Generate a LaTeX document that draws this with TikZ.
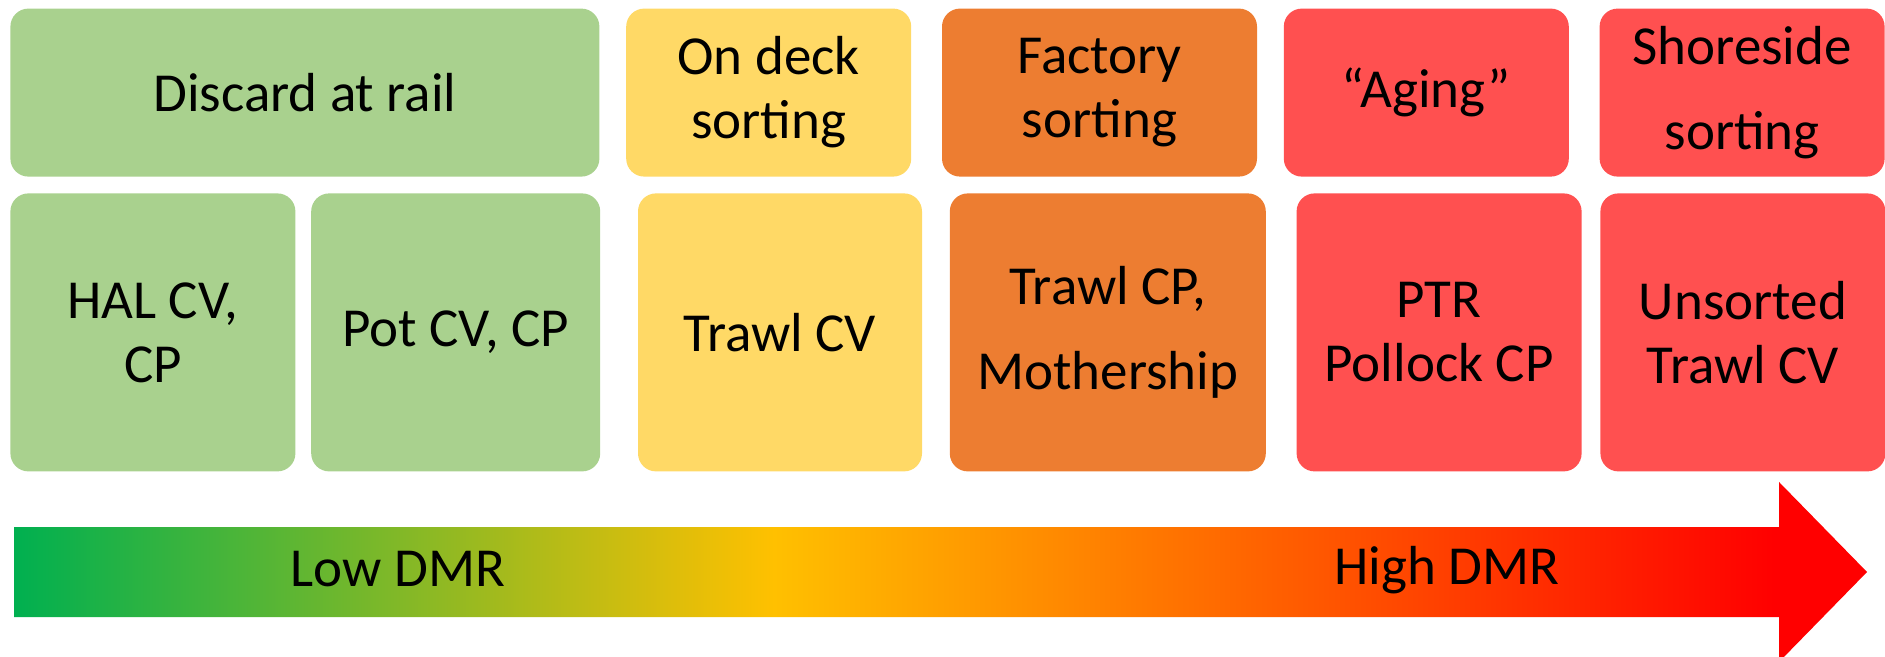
\documentclass[tikz,border=0pt]{standalone}
\usepackage{fontspec}
\setmainfont{Carlito}
\usetikzlibrary{positioning}

\definecolor{railgreen}{HTML}{A9D18E}
\definecolor{deckyellow}{HTML}{FFD966}
\definecolor{factoryorange}{HTML}{ED7D31}
\definecolor{agingred}{HTML}{FF5050}
\definecolor{dmrgreen}{HTML}{00B050}
\definecolor{dmryellow}{HTML}{FFC000}
\definecolor{dmrred}{HTML}{FF0000}

\pgfdeclarehorizontalshading{dmrshade}{100bp}{color(0bp)=(dmrgreen); color(25bp)=(dmrgreen); color(45.5bp)=(dmryellow); color(72.5bp)=(dmrred); color(100bp)=(dmrred)}

\tikzset{
  sortbox/.style={rounded corners=9pt, inner sep=0pt, align=center, text=black,
    font=\fontsize{27.5}{32}\selectfont},
  toprow/.style={sortbox, minimum height=84pt},
  botrow/.style={sortbox, minimum height=139pt},
  widelines/.style={font=\fontsize{27.5}{42.5}\selectfont},
}

\begin{document}
\begin{tikzpicture}[x=0.5pt, y=-0.5pt]
        \useasboundingbox (0,0) rectangle (1885,657);

        \node[botrow, fill=railgreen, minimum width=142.5pt, anchor=north west] (hal) at (10,193) {HAL CV,\\CP};
        \node[botrow, fill=railgreen, minimum width=144.5pt, right=7.5pt of hal] (pot) {Pot CV, CP};
        \node[botrow, fill=deckyellow, minimum width=142pt, right=18.5pt of pot] (trawlcv) {Trawl CV};
        \node[botrow, widelines, fill=factoryorange, minimum width=158pt, right=13.5pt of trawlcv] (trawlcp) {Trawl CP,\\Mothership};
        \node[botrow, fill=agingred, minimum width=142.5pt, right=15pt of trawlcp] (ptr) {PTR\\Pollock CP};
        \node[botrow, fill=agingred, minimum width=142.5pt, right=9pt of ptr] (unsorted) {Unsorted\\Trawl CV};

        \node[toprow, fill=railgreen, minimum width=294.5pt, above right=8pt and 0pt of hal.north west] (rail) {Discard at rail};
        \node[toprow, fill=deckyellow, minimum width=142.5pt, right=13pt of rail] (deck) {On deck\\sorting};
        \node[toprow, fill=factoryorange, minimum width=157.5pt, right=15pt of deck] (factory) {Factory\\sorting};
        \node[toprow, fill=agingred, minimum width=142.5pt, right=13pt of factory] (aging) {“Aging”};
        \node[toprow, widelines, fill=agingred, minimum width=142.5pt, right=15pt of aging] (shore) {Shoreside\\sorting};

        % DMR arrow
        \shade[shading=dmrshade] (14,527) -- (1779,527) -- (1779,482) -- (1867,572)
          -- (1779,662) -- (1779,617) -- (14,617) -- cycle;
        \node[font=\fontsize{27.5}{32}\selectfont, anchor=base] (low) at (398,586) {Low DMR};
        \node[font=\fontsize{27.5}{32}\selectfont, anchor=base] (high) at (1447,584) {High DMR};
      \end{tikzpicture}
\end{document}
